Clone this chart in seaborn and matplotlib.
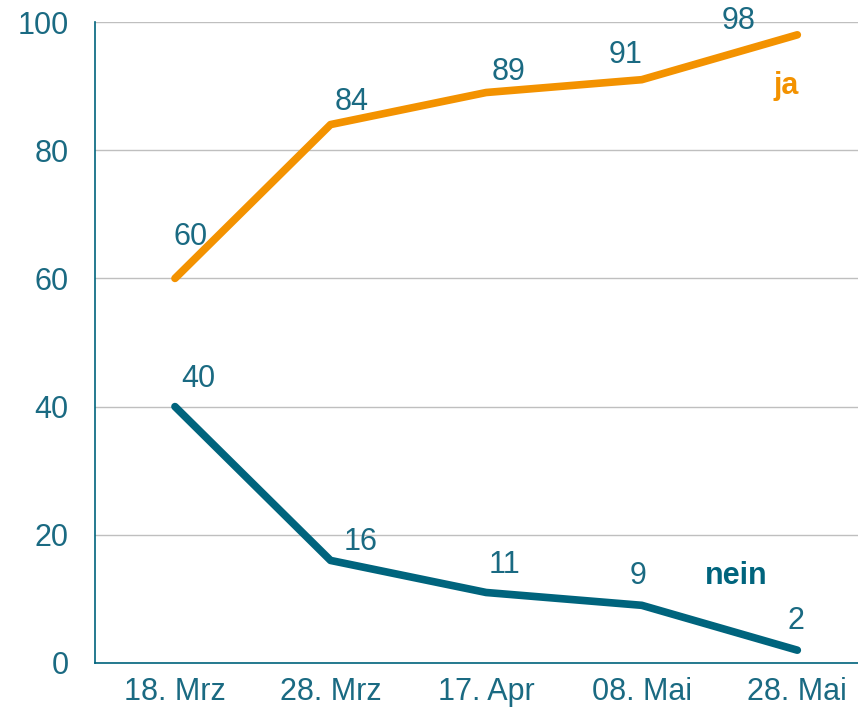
#!/usr/bin/env python3
"""
Line chart: ja / nein over five survey dates.
"""

import matplotlib
matplotlib.use("Agg")
import matplotlib.pyplot as plt
import pandas as pd
import seaborn as sns

dates = ["18. Mrz", "28. Mrz", "17. Apr", "08. Mai", "28. Mai"]
ja = [60, 84, 89, 91, 98]
nein = [40, 16, 11, 9, 2]

ORANGE = "#F39200"
TEAL = "#00647D"
TEXT = "#1A6A82"
GRID = "#BFBFBF"
FS = 22

# label offsets in points (dx, dy)
ja_offsets = [(11, 30), (15, 16), (16, 15), (-12, 18), (-42, 10)]
nein_offsets = [(17, 20), (22, 13), (13, 20), (-3, 21), (-1, 21)]


def main() -> int:
    sns.set_style("white")
    plt.rcParams["font.family"] = ["Liberation Sans", "DejaVu Sans"]

    df = pd.DataFrame({
        "date": dates * 2,
        "value": ja + nein,
        "answer": ["ja"] * len(dates) + ["nein"] * len(dates),
    })

    fig = plt.figure(figsize=(8.58, 7.09), dpi=100)
    ax = fig.add_axes([95 / 858, 46 / 709, 763 / 858, 641 / 709])

    sns.lineplot(
        data=df, x="date", y="value", hue="answer",
        palette={"ja": ORANGE, "nein": TEAL},
        linewidth=5.5, legend=False, ax=ax,
        solid_capstyle="round", sort=False,
    )

    ax.set_ylim(0, 100)
    ax.set_xlim(-0.514, 4.39)
    ax.set_yticks([0, 20, 40, 60, 80, 100])
    ax.yaxis.grid(True, color=GRID, linewidth=1)
    ax.set_axisbelow(True)
    ax.tick_params(axis="both", length=0, labelsize=FS, colors=TEXT)
    ax.tick_params(axis="x", pad=10)
    ax.tick_params(axis="y", pad=19)
    ax.set_xlabel("")
    ax.set_ylabel("")

    for side in ["top", "right"]:
        ax.spines[side].set_visible(False)
    for side in ["left", "bottom"]:
        ax.spines[side].set_color(TEAL)
        ax.spines[side].set_linewidth(1.2)

    for i, v in enumerate(ja):
        ax.annotate(str(v), (i, v), xytext=ja_offsets[i], textcoords="offset points",
                    ha="center", va="center", fontsize=FS, color=TEXT)
    for i, v in enumerate(nein):
        ax.annotate(str(v), (i, v), xytext=nein_offsets[i], textcoords="offset points",
                    ha="center", va="center", fontsize=FS, color=TEXT)

    ax.annotate("ja", (4, ja[-1]), xytext=(-8, -37), textcoords="offset points",
                ha="center", va="center", fontsize=FS, fontweight="bold", color=ORANGE)
    ax.annotate("nein", (3, nein[-2]), xytext=(68, 21), textcoords="offset points",
                ha="center", va="center", fontsize=FS, fontweight="bold", color=TEAL)

    fig.savefig("out.png", dpi=100)
    return 0


if __name__ == "__main__":
    raise SystemExit(main())
